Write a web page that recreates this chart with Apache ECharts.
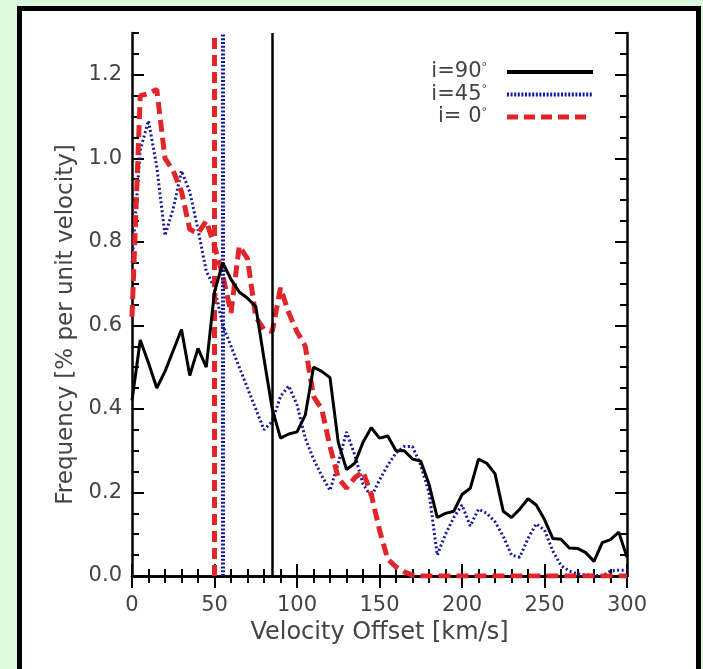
<!DOCTYPE html>
<html><head><meta charset="utf-8">
<script src="https://cdn.jsdelivr.net/npm/echarts@6/dist/echarts.min.js"></script>
<style>html,body{margin:0;padding:0;background:#dcf9dd;}#c{width:703px;height:669px;}</style>
</head><body><div id="c"></div>
<script>
const velocity = [0,5,10,15,20,25,30,35,40,45,50,55,60,65,70,75,80,85,90,95,100,105,110,115,120,125,130,135,140,145,150,155,160,165,170,175,180,185,190,195,200,205,210,215,220,225,230,235,240,245,250,255,260,265,270,275,280,285,290,295,300];
const freq90 = [0.42,0.565,0.51,0.45,0.49,0.54,0.59,0.48,0.545,0.50,0.68,0.75,0.71,0.68,0.665,0.645,0.52,0.40,0.33,0.34,0.345,0.385,0.50,0.49,0.475,0.32,0.255,0.27,0.32,0.355,0.33,0.335,0.30,0.30,0.28,0.275,0.22,0.14,0.15,0.155,0.195,0.21,0.28,0.27,0.245,0.155,0.14,0.16,0.185,0.17,0.135,0.09,0.088,0.067,0.066,0.056,0.035,0.08,0.087,0.105,0.045];
const freq45 = [0.75,1.02,1.09,0.98,0.815,0.88,0.97,0.92,0.83,0.73,0.69,0.60,0.55,0.50,0.45,0.40,0.35,0.37,0.43,0.455,0.41,0.33,0.28,0.24,0.205,0.27,0.345,0.29,0.22,0.19,0.23,0.265,0.295,0.31,0.31,0.265,0.20,0.05,0.10,0.14,0.17,0.12,0.16,0.15,0.13,0.095,0.05,0.045,0.09,0.125,0.11,0.06,0.025,0.012,0.005,0.003,0.002,0.0,0.012,0.014,0.014];
const freq0 = [0.62,1.15,1.155,1.165,1.0,0.97,0.92,0.83,0.82,0.85,0.79,0.72,0.63,0.79,0.76,0.62,0.59,0.585,0.69,0.63,0.585,0.55,0.43,0.40,0.31,0.235,0.21,0.235,0.25,0.195,0.11,0.04,0.022,0.01,0.002,0,0,0,0,0,0,0,0,0,0,0,0,0,0,0,0,0,0,0,0,0,0,0,0,0,0];
const meanLines = {i90: 85, i45: 55, i0: 50};
const xTicks = [0,50,100,150,200,250,300];
const yTicks = [0.0,0.2,0.4,0.6,0.8,1.0,1.2];
const legendNames = ['i=90', 'i=45', 'i= 0'];

const BLUE = '#16189a', RED = '#e0262a', BLACK = '#000';
const FONT = 'DejaVu Sans';
const pairs = arr => velocity.map((v, i) => [v, arr[i]]);

const chart = echarts.init(document.getElementById('c'), null, {renderer: 'canvas'});
const tickLabelStyle = {fontFamily: FONT, fontSize: 21, color: '#444'};
const baseY = {type: 'value', min: 0, max: 1.3, splitLine: {show: false}};
const baseX = {type: 'value', min: 0, max: 300, interval: 50, splitLine: {show: false}};
const lineBlk = {lineStyle: {color: '#000', width: 2.5}};

const legendTexts = legendNames.map((n, k) => ({
  type: 'text', z: 10,
  style: {x: 487, y: 72 + k * 22.5, text: '{t|' + n + '}{d|°}', align: 'right', verticalAlign: 'middle',
    rich: {t: {fontFamily: FONT, fontSize: 21, fill: '#444'}, d: {fontFamily: FONT, fontSize: 11, fill: '#444', verticalAlign: 'top', padding: [0,0,10,0]}}}
}));

const option = {
  backgroundColor: '#dcf9dd',
  animation: false,
  grid: {left: 132, right: 76, top: 33, bottom: 93, containLabel: false},
  graphic: [
    {type: 'rect', z: -10, shape: {x: 19.5, y: 8.5, width: 679, height: 700}, style: {fill: '#fff', stroke: '#000', lineWidth: 5}}
  ].concat(legendTexts).concat([
    {type: 'line', z: 10, shape: {x1: 507, y1: 72, x2: 593, y2: 72}, style: {stroke: BLACK, lineWidth: 4}},
    {type: 'line', z: 10, shape: {x1: 507, y1: 94.5, x2: 593, y2: 94.5}, style: {stroke: BLUE, lineWidth: 4, lineDash: [2, 1.6]}},
    {type: 'line', z: 10, shape: {x1: 507, y1: 117, x2: 590, y2: 117}, style: {stroke: RED, lineWidth: 5, lineDash: [11, 6]}}
  ]),
  xAxis: [
    Object.assign({}, baseX, {position: 'bottom',
      axisLine: lineBlk, axisTick: {inside: true, length: 12, lineStyle: {color: '#000', width: 2}},
      minorTick: {show: true, splitNumber: 5, length: 7, lineStyle: {color: '#000', width: 2}},
      axisLabel: Object.assign({margin: 19, formatter: v => xTicks.includes(v) ? String(v) : ''}, tickLabelStyle),
      name: 'Velocity Offset [km/s]', nameLocation: 'middle', nameGap: 38,
      nameTextStyle: {fontFamily: FONT, fontSize: 24, color: '#444'}}),
    Object.assign({}, baseX, {position: 'top',
      axisLine: lineBlk, axisTick: {inside: true, length: 12, lineStyle: {color: '#000', width: 2}},
      minorTick: {show: true, splitNumber: 5, length: 7, lineStyle: {color: '#000', width: 2}},
      axisLabel: {show: false}})
  ],
  yAxis: [
    Object.assign({}, baseY, {position: 'left', interval: 0.2,
      axisLine: lineBlk, axisTick: {inside: true, length: 12, lineStyle: {color: '#000', width: 2}},
      axisLabel: Object.assign({margin: 10, showMaxLabel: false,
        formatter: v => yTicks.some(t => Math.abs(t - v) < 1e-6) ? v.toFixed(1) : ''}, tickLabelStyle),
      name: 'Frequency [% per unit velocity]', nameLocation: 'middle', nameGap: 50, nameRotate: 90,
      nameTextStyle: {fontFamily: FONT, fontSize: 23, color: '#444', padding: [0, 40, 0, 0]}}),
    Object.assign({}, baseY, {position: 'left', interval: 0.05,
      axisLine: {show: false}, axisTick: {inside: true, length: 7, lineStyle: {color: '#000', width: 2}},
      axisLabel: {show: false}}),
    Object.assign({}, baseY, {position: 'right', interval: 0.2,
      axisLine: lineBlk, axisTick: {inside: true, length: 12, lineStyle: {color: '#000', width: 2}},
      axisLabel: {show: false}}),
    Object.assign({}, baseY, {position: 'right', interval: 0.05,
      axisLine: {show: false}, axisTick: {inside: true, length: 7, lineStyle: {color: '#000', width: 2}},
      axisLabel: {show: false}})
  ],
  series: [
    {name: 'i=45', type: 'line', data: pairs(freq45), showSymbol: false, symbol: 'none', z: 3,
      lineStyle: {color: BLUE, width: 3, type: [2, 2.5]},
      markLine: {silent: true, symbol: 'none', label: {show: false}, data: [{xAxis: meanLines.i45}],
        lineStyle: {color: BLUE, width: 4, type: [2, 1.8]}}},
    {name: 'i=0', type: 'line', data: pairs(freq0), showSymbol: false, symbol: 'none', z: 4,
      lineStyle: {color: RED, width: 5, type: [12, 6]},
      markLine: {silent: true, symbol: 'none', label: {show: false}, data: [{xAxis: meanLines.i0}],
        lineStyle: {color: RED, width: 5, type: [11, 6]}}},
    {name: 'i=90', type: 'line', data: pairs(freq90), showSymbol: false, symbol: 'none', z: 5,
      lineStyle: {color: BLACK, width: 3, type: 'solid'},
      markLine: {silent: true, symbol: 'none', label: {show: false}, data: [{xAxis: meanLines.i90}],
        lineStyle: {color: BLACK, width: 2.5, type: 'solid'}}}
  ]
};
chart.setOption(option);
</script></body></html>
